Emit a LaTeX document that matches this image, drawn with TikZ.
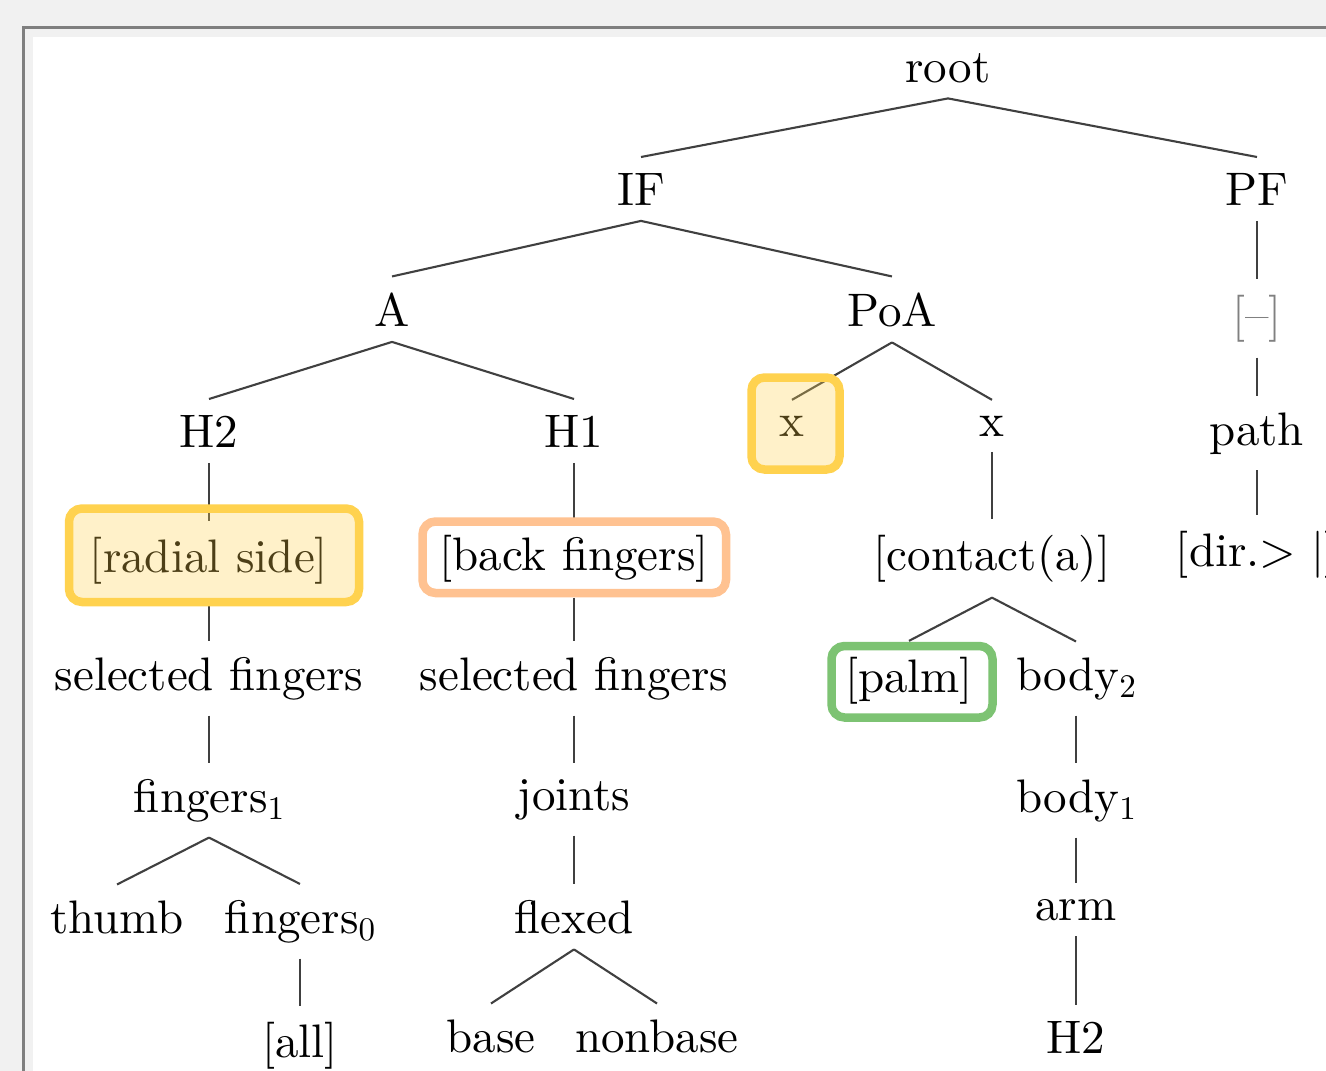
\documentclass[tikz,border=0pt]{standalone}
\usepackage{fontspec}
\setmainfont{lmroman10-regular}[Extension=.otf]
\definecolor{bgout}{HTML}{F1F1F1}
\definecolor{framec}{HTML}{7F7F7F}
\definecolor{edgec}{HTML}{404040}
\definecolor{yel}{HTML}{FFD24F}
\definecolor{org}{HTML}{FFC291}
\definecolor{grn}{HTML}{7DC373}
\newcommand\lowsub[1]{\raisebox{-7pt}{\fontsize{33}{33}\selectfont #1}}
\tikzset{
  lbl/.style={anchor=base, inner sep=15.7pt, font=\fontsize{47}{56}\selectfont},
  edge/.style={draw=edgec, line width=2.1pt},
  yelbox/.style={draw=yel, line width=8.5pt, fill=yel, fill opacity=0.3, draw opacity=1, rounded corners=13pt},
  orgbox/.style={draw=org, line width=8.5pt, rounded corners=13pt},
  grnbox/.style={draw=grn, line width=8.5pt, rounded corners=13pt}
}
\begin{document}
\begin{tikzpicture}[x=1pt, y=-1pt]
\useasboundingbox (0,0) rectangle (1326,1071);
% window frame
\fill[bgout] (0,0) rectangle (1326,1071);
\fill[framec] (22,26) rectangle (1326,1071);
\fill[bgout] (24.5,28.5) rectangle (1326,1071);
\fill[white] (33,37) rectangle (1326,1071);
\begin{scope}
\clip (33,37) rectangle (1326,1071);
% nodes
\node[lbl] (root) at (948,82) {root};
\node[lbl] (IF) at (641,205) {IF};
\node[lbl] (PF) at (1257,205) {PF};
\node[lbl] (A) at (392,326) {A};
\node[lbl] (PoA) at (892,326) {PoA};
\node[lbl, text=black!50] (dash) at (1257,330) {[–]};
\node[lbl] (H2) at (209,447) {H2};
\node[lbl] (H1) at (574,447) {H1};
\node[lbl] (xl) at (792,436) {x};
\node[lbl] (xr) at (992,436) {x};
\node[lbl] (path) at (1257,445) {path};
\node[lbl] (radial) at (209,572) {[radial side]};
\node[lbl] (back) at (574,570) {[back fingers]};
\node[lbl] (contact) at (992,570) {[contact(a)]};
\node[lbl] (dir) at (1257,566) {[dir.> |]};
\node[lbl] (sfl) at (209,690) {selected fingers};
\node[lbl] (sfr) at (574,690) {selected fingers};
\node[lbl] (palm) at (909,692) {[palm]};
\node[lbl] (body2) at (1076,690) {body\lowsub{2}};
\node[lbl] (fing1) at (209,812) {fingers\lowsub{1}};
\node[lbl] (joints) at (574,810) {joints};
\node[lbl] (body1) at (1076,812) {body\lowsub{1}};
\node[lbl] (thumb) at (117,933) {thumb};
\node[lbl] (fing0) at (300,933) {fingers\lowsub{0}};
\node[lbl] (flexed) at (574,933) {flexed};
\node[lbl] (arm) at (1076,920) {arm};
\node[lbl] (all) at (300,1057) {[all]};
\node[lbl] (base) at (491,1052) {base};
\node[lbl] (nonbase) at (657,1052) {nonbase};
\node[lbl] (H2b) at (1076,1053) {H2};
% edges
\draw[edge] (root.south) -- (IF.north);
\draw[edge] (root.south) -- (PF.north);
\draw[edge] (IF.south) -- (A.north);
\draw[edge] (IF.south) -- (PoA.north);
\draw[edge] (PF.south) -- (dash.north);
\draw[edge] (dash.south) -- (path.north);
\draw[edge] (path.south) -- (dir.north);
\draw[edge] (A.south) -- (H2.north);
\draw[edge] (A.south) -- (H1.north);
\draw[edge] (PoA.south) -- (xl.north);
\draw[edge] (PoA.south) -- (xr.north);
\draw[edge] (H2.south) -- (radial.north);
\draw[edge] (H1.south) -- (back.north);
\draw[edge] (xr.south) -- (contact.north);
\draw[edge] (radial.south) -- (sfl.north);
\draw[edge] (back.south) -- (sfr.north);
\draw[edge] (contact.south) -- (palm.north);
\draw[edge] (contact.south) -- (body2.north);
\draw[edge] (sfl.south) -- (fing1.north);
\draw[edge] (sfr.south) -- (joints.north);
\draw[edge] (body2.south) -- (body1.north);
\draw[edge] (fing1.south) -- (thumb.north);
\draw[edge] (fing1.south) -- (fing0.north);
\draw[edge] (joints.south) -- (flexed.north);
\draw[edge] (body1.south) -- (arm.north);
\draw[edge] (fing0.south) -- (all.north);
\draw[edge] (flexed.south) -- (base.north);
\draw[edge] (flexed.south) -- (nonbase.north);
\draw[edge] (arm.south) -- (H2b.north);
% highlight boxes
\draw[yelbox] (69,508.5) rectangle (359,602);
\draw[yelbox] (751.5,377.5) rectangle (839.5,469.5);
\draw[orgbox] (422.5,521.5) rectangle (726,593);
\draw[grnbox] (831.5,646) rectangle (992.5,717.5);
\end{scope}
\end{tikzpicture}
\end{document}
